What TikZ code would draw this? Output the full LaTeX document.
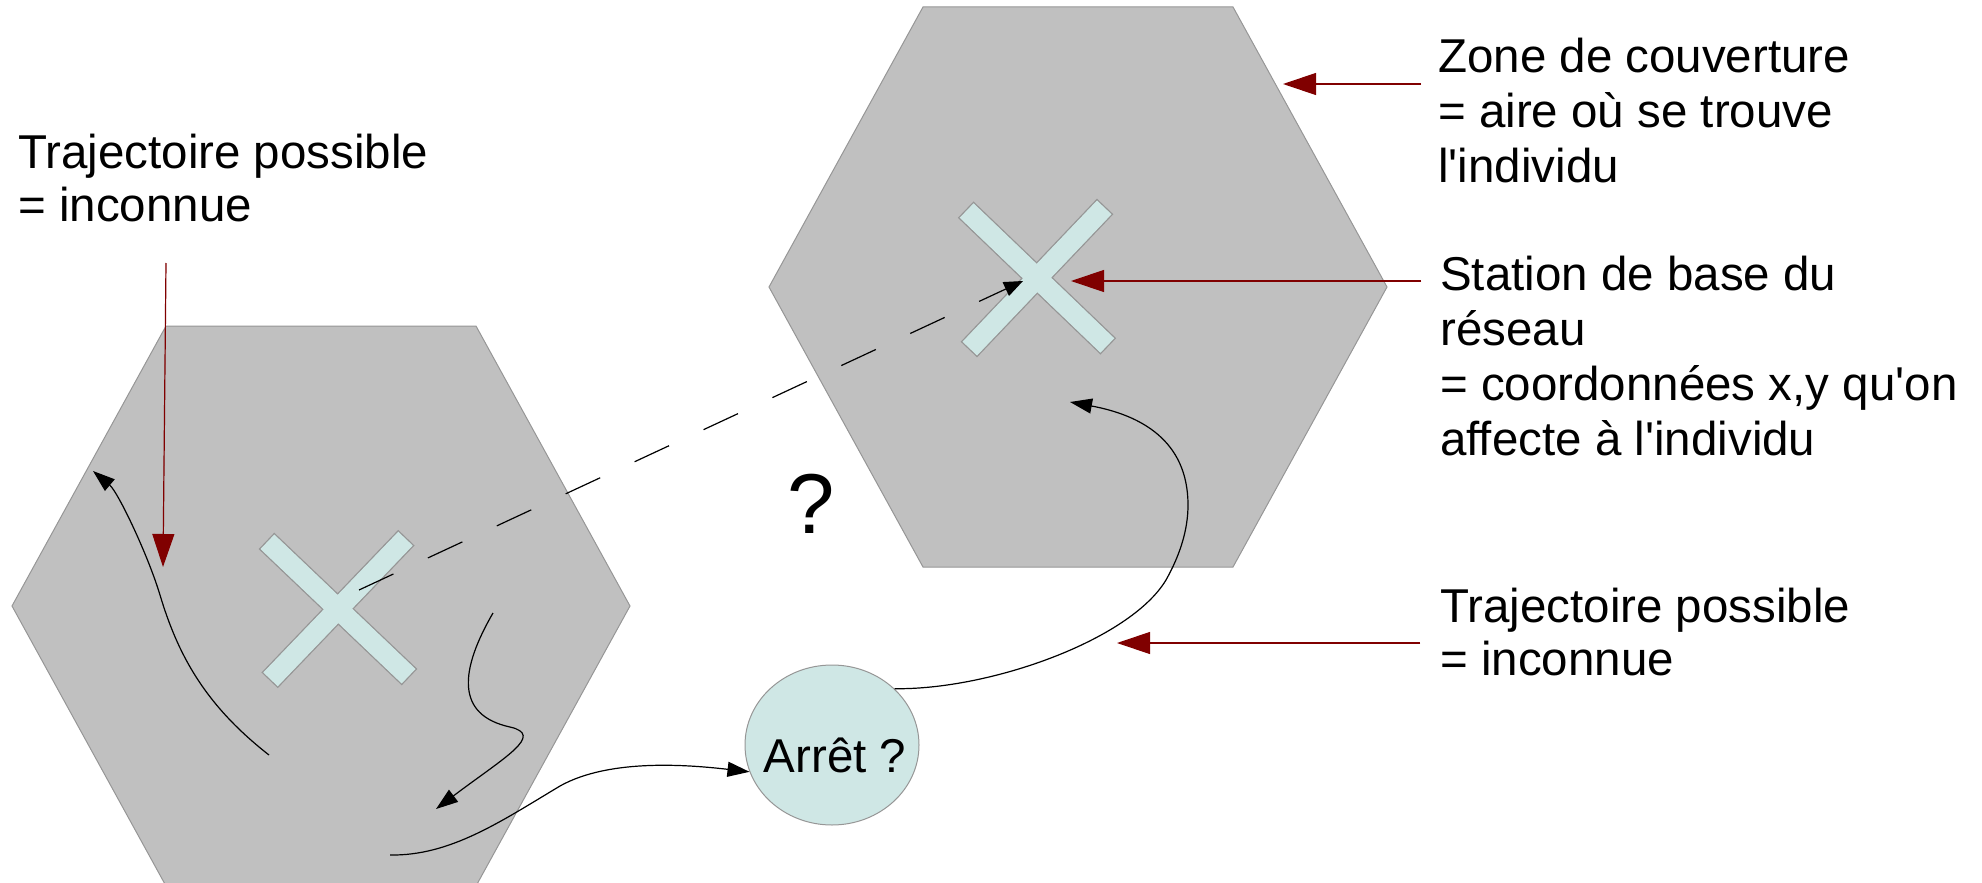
\documentclass[tikz,border=0pt]{standalone}
\usepackage{fontspec}
\setmainfont{Liberation Sans}
\usetikzlibrary{arrows.meta,shapes.geometric}
\definecolor{hexfill}{RGB}{192,192,192}
\definecolor{hexline}{RGB}{150,150,150}
\definecolor{crossfill}{RGB}{207,231,229}
\definecolor{darkred}{RGB}{128,0,0}
\begin{document}
\begin{tikzpicture}[x=1pt,y=-1pt,
  hexagon/.style={fill=hexfill, draw=hexline, line width=1pt},
  crossbar/.style={rectangle, fill=crossfill, draw=hexline, line width=1.6pt,
    minimum width=196pt, minimum height=21pt, inner sep=0pt},
  crossinner/.style={rectangle, fill=crossfill, minimum width=195pt,
    minimum height=20pt, inner sep=0pt},
  stopnode/.style={ellipse, fill=crossfill, draw=hexline, line width=1pt,
    minimum width=174pt, minimum height=160pt, inner sep=0pt},
  redarrow/.style={draw=darkred, fill=darkred, line width=1.2pt,
    -{Triangle[length=33pt,width=22pt]}},
  traj/.style={draw=black, line width=1.2pt, -{Triangle[length=22pt,width=15pt]}},
  dashline/.style={draw=black, line width=1.2pt, dash pattern=on 38pt off 38pt,
    -{Triangle[length=19pt,width=15pt]}},
  lbl/.style={anchor=base west, align=left, inner sep=0pt},
]
\useasboundingbox (0,0) rectangle (1982,883);
\clip (0,0) rectangle (1982,883);

% hexagons (coverage zones)
\draw[hexagon] (166,326) -- (476,326) -- (630,606) -- (476,886) -- (166,886) -- (12,606) -- cycle;
\draw[hexagon] (923,7) -- (1233,7) -- (1387,287) -- (1233,567) -- (923,567) -- (769,287) -- cycle;

% base station crosses
\node[crossbar, rotate=-43.6] (lxa) at (338,609) {};
\node[crossbar, rotate=46.2] (lxb) at (338,609) {};
\node[crossinner, rotate=-43.6] (lxai) at (338,609) {};
\node[crossinner, rotate=46.2] (lxbi) at (338,609) {};
\node[crossbar, rotate=-43.8] (rxa) at (1037,278) {};
\node[crossbar, rotate=46.4] (rxb) at (1037,278) {};
\node[crossinner, rotate=-43.8] (rxai) at (1037,278) {};
\node[crossinner, rotate=46.4] (rxbi) at (1037,278) {};

% stop circle
\node[stopnode] (arret) at (832,745) {};
\node[lbl, anchor=base, font=\fontsize{47.5}{50}\selectfont] (arrtxt) at (835,772) {Arrêt ?};

% question mark
\node[anchor=base, inner sep=0pt, font=\fontsize{85}{90}\selectfont] (qmark) at (811,533) {?};

% coordinates
\coordinate (c1s) at (269,755);
\coordinate (c1e) at (93,471);
\coordinate (c2s) at (493,613);
\coordinate (c2e) at (436,809);
\coordinate (c3s) at (390,855);
\coordinate (c4e) at (1070,402);
\coordinate (dstart) at (359,590);
\coordinate (dend) at (1023,281);
\coordinate (zoneS) at (1421,84);
\coordinate (zoneT) at (1283,84);
\coordinate (statS) at (1421,281);
\coordinate (statT) at (1071,281);
\coordinate (trajRS) at (1420,643);
\coordinate (trajRT) at (1117,643);
\coordinate (trajLS) at (166,263);
\coordinate (trajLT) at (163,567);

% trajectories
\draw[traj] (c1s) .. controls (205,705) and (178,655) .. (160,595)
  .. controls (148,555) and (118,492) .. (c1e);
\draw[traj] (c2s) .. controls (460,670) and (455,715) .. (510,727)
  .. controls (545,735) and (505,757) .. (c2e);
\draw[traj] (c3s) .. controls (450,856) and (500,822) .. (560,786)
  .. controls (610,758) and (690,765) .. (arret.198);
\draw[traj] (arret.42) .. controls (990,690) and (1130,640) .. (1166,580)
  .. controls (1180,555) and (1188,530) .. (1188,505)
  .. controls (1188,440) and (1140,415) .. (c4e);
\draw[dashline] (dstart) -- (dend);

% red pointers
\draw[redarrow] (zoneS) -- (zoneT);
\draw[redarrow] (statS) -- (statT);
\draw[redarrow] (trajRS) -- (trajRT);
\draw[redarrow] (trajLS) -- (trajLT);

% labels (base anchor of a multi-line node = baseline of its last line)
\node[lbl, font=\fontsize{47.5}{55}\selectfont] (zone) at (1438,182)
  {Zone de couverture\\= aire où se trouve\\l\textquotesingle individu};
\node[lbl, font=\fontsize{47.5}{55}\selectfont] (station) at (1440,455)
  {Station de base du\\réseau\\= coordonnées x,y qu\textquotesingle on\\affecte à l\textquotesingle individu};
\node[lbl, font=\fontsize{47.5}{53}\selectfont] (trajR) at (1440,675)
  {Trajectoire possible\\= inconnue};
\node[lbl, font=\fontsize{47.5}{53}\selectfont] (trajL) at (18,221)
  {Trajectoire possible\\= inconnue};
\end{tikzpicture}
\end{document}
